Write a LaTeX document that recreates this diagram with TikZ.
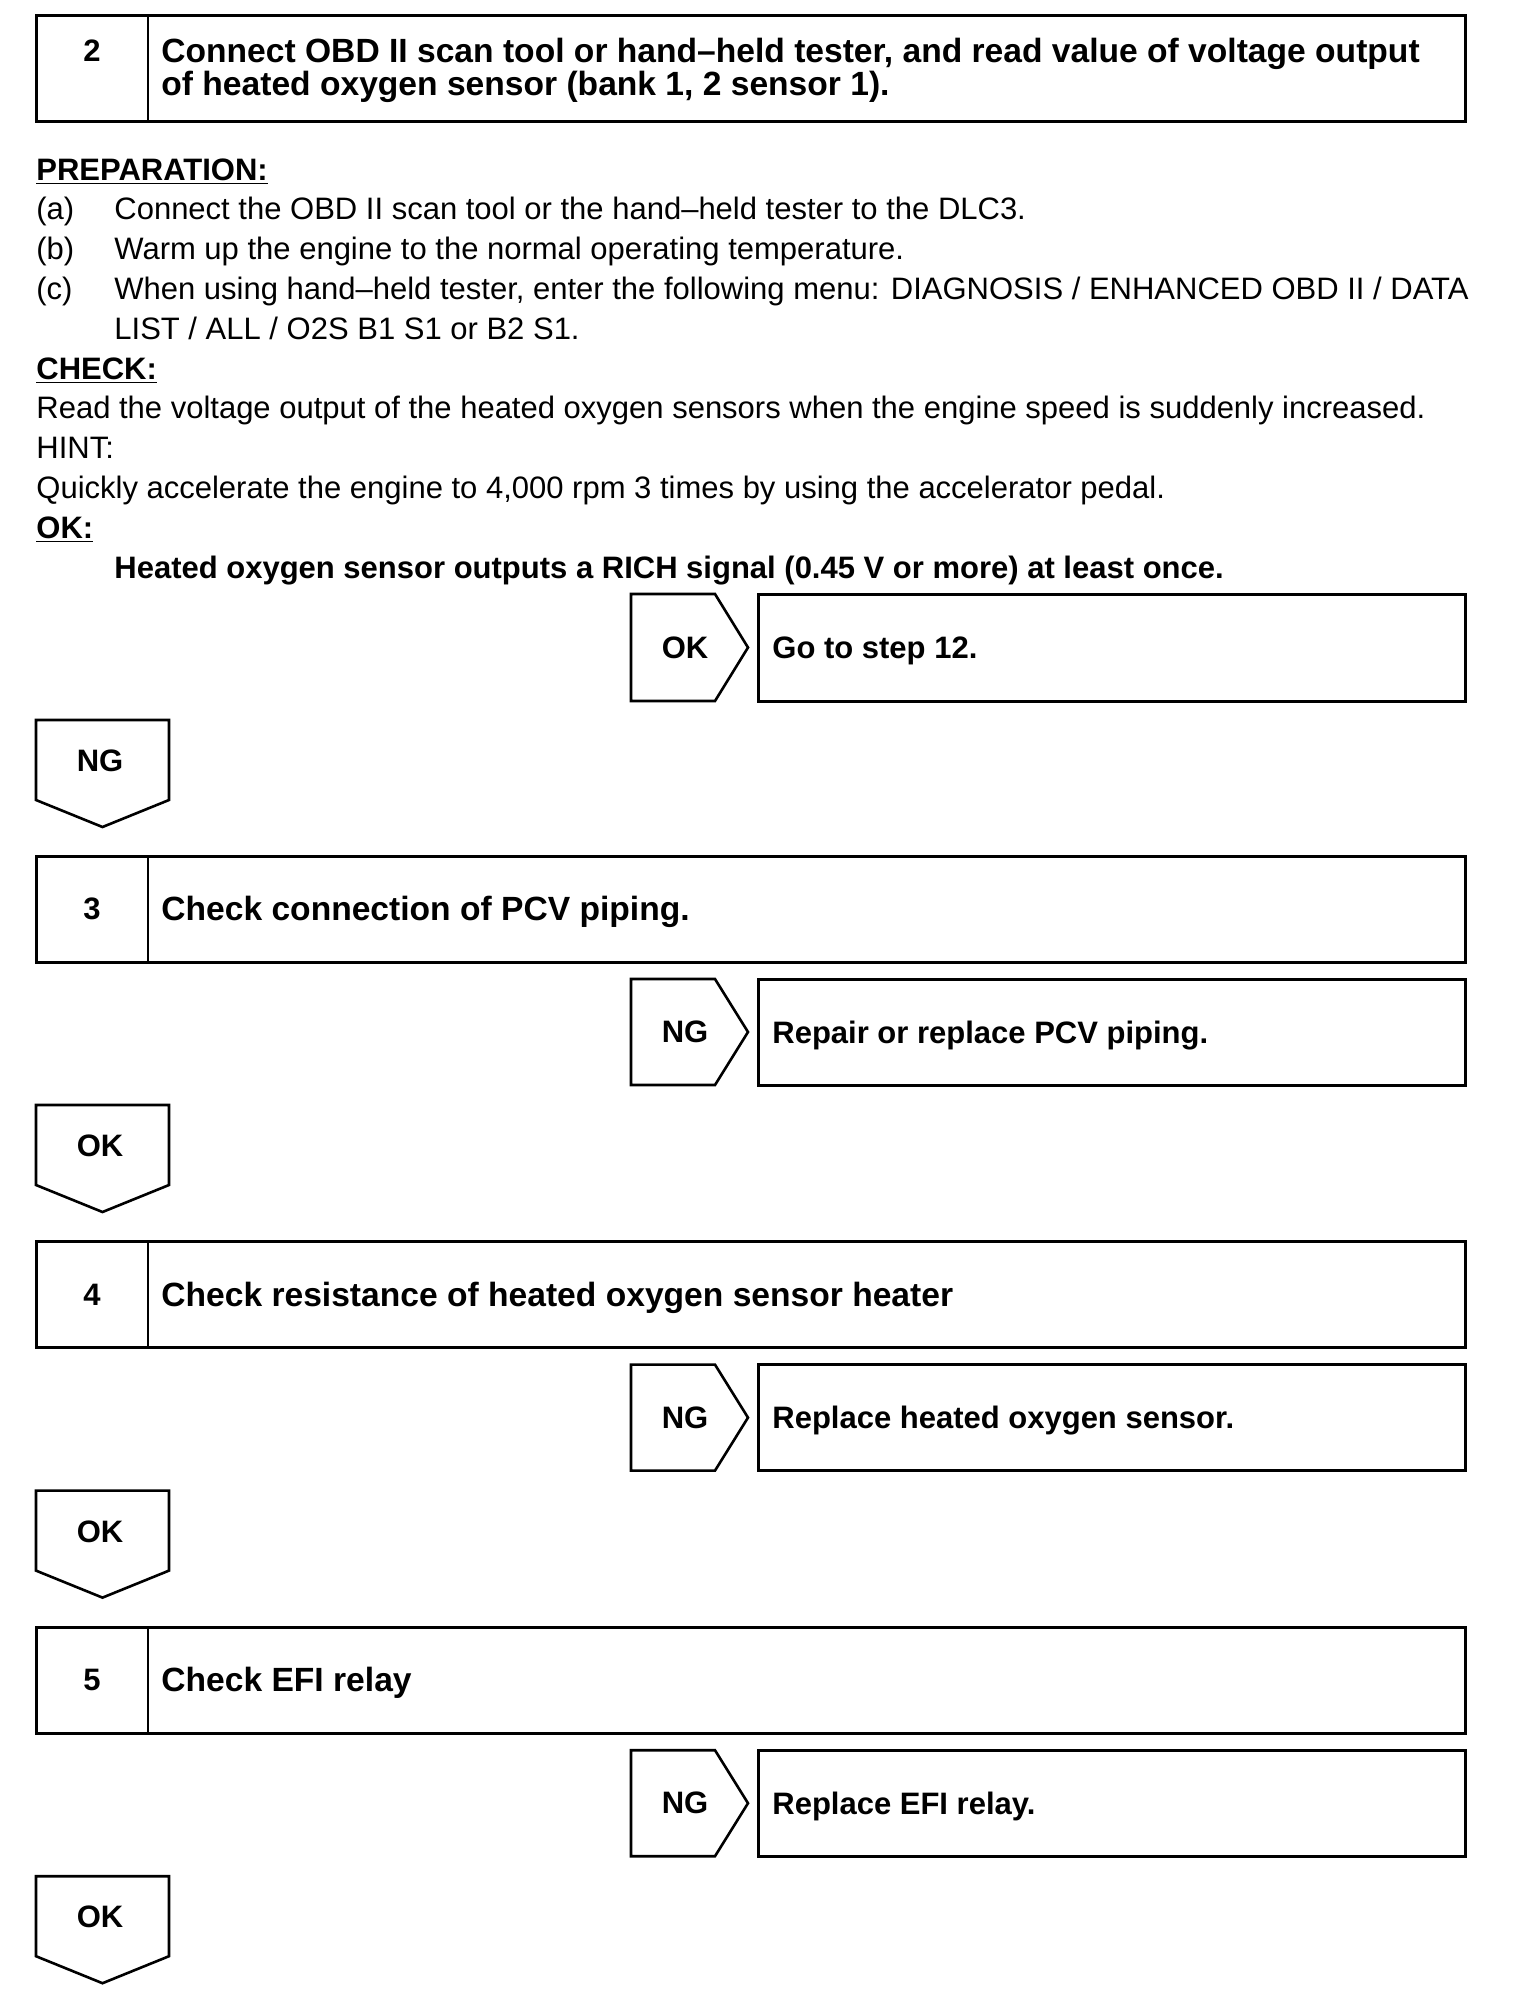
\documentclass[tikz,border=0pt]{standalone}
\usepackage{fontspec}
\setmainfont{Liberation Sans}
\begin{document}
\begin{tikzpicture}[x=0.5pt,y=-0.5pt,
  boxline/.style={line width=1.5pt},
  divline/.style={line width=0.8pt},
  arrowline/.style={line width=1.3pt, line join=miter},
  txt/.style={inner sep=0pt, font=\fontsize{15.5}{19.75}\selectfont},
  btxt/.style={inner sep=0pt, font=\fontsize{15.5}{19.75}\selectfont\bfseries},
  ttxt/.style={inner sep=0pt, font=\fontsize{16.8}{19.75}\selectfont\bfseries},
]
\useasboundingbox[fill=white] (0,0) rectangle (1520,1994);

% ---- step 2 ----
\draw[boxline] (36,15) rectangle (1465,121);
\draw[divline] (148,15) -- (148,121);
\node[btxt] (num2) at (92,51) {2};
\node[ttxt, anchor=base west] (t2a) at (161,62) {Connect OBD II scan tool or hand–held tester, and read value of voltage output};
\node[ttxt, anchor=base west] (t2b) at (161,95) {of heated oxygen sensor (bank 1, 2 sensor 1).};

\node[btxt, anchor=base west] (prep) at (36,180) {\underline{PREPARATION:}};
\node[txt, anchor=base west] (pa) at (36,219.8) {(a)};
\node[txt, anchor=base west] (pat) at (114,219.8) {Connect the OBD II scan tool or the hand–held tester to the DLC3.};
\node[txt, anchor=base west] (pb) at (36,259.6) {(b)};
\node[txt, anchor=base west] (pbt) at (114,259.6) {Warm up the engine to the normal operating temperature.};
\node[txt, anchor=base west] (pc) at (36,299.4) {(c)};
\node[txt, anchor=base west] (pct) at (114,299.4) {When using hand–held tester, enter the following menu: DIAGNOSIS / ENHANCED OBD II / DATA};
\node[txt, anchor=base west] (pct2) at (114,339.2) {LIST / ALL / O2S B1 S1 or B2 S1.};
\node[btxt, anchor=base west] (chk) at (36,379) {\underline{CHECK:}};
\node[txt, anchor=base west] (chkt) at (36,418.8) {Read the voltage output of the heated oxygen sensors when the engine speed is suddenly increased.};
\node[txt, anchor=base west] (hint) at (36,458.6) {HINT:};
\node[txt, anchor=base west] (hintt) at (36,498.4) {Quickly accelerate the engine to 4,000 rpm 3 times by using the accelerator pedal.};
\node[btxt, anchor=base west] (ok) at (36,538.2) {\underline{OK:}};
\node[btxt, anchor=base west] (okt) at (114,578) {Heated oxygen sensor outputs a RICH signal (0.45 V or more) at least once.};

% ---- step 2 result row ----
\draw[arrowline] (631,594) -- (715,594) -- (748,647.5) -- (715,701) -- (631,701) -- cycle;
\node[btxt] (lab2) at (685,647.5) {OK};
\draw[boxline] (758,594) rectangle (1465,701);
\node[btxt, anchor=base west] (res2) at (772,658.5) {Go to step 12.};

% ---- down arrow after step 2 ----
\draw[arrowline] (36,720) -- (169,720) -- (169,800) -- (102.5,827) -- (36,800) -- cycle;
\node[btxt] (dn2) at (100,761) {NG};

% ---- steps 3 to 5 ----
\foreach \k/\ttl/\res in {3/Check connection of PCV piping./Repair or replace PCV piping.,
                          4/Check resistance of heated oxygen sensor heater/Replace heated oxygen sensor.,
                          5/Check EFI relay/Replace EFI relay.}{
  \pgfmathsetmacro{\o}{(\k-3)*385.6}
  \draw[boxline] (36,856+\o) rectangle (1465,962+\o);
  \draw[divline] (148,856+\o) -- (148,962+\o);
  \node[btxt] (num\k) at (92,909+\o) {\k};
  \node[ttxt, anchor=base west] (title\k) at (161,920.5+\o) {\ttl};
  \draw[arrowline] (631,979+\o) -- (715,979+\o) -- (748,1032+\o) -- (715,1085+\o) -- (631,1085+\o) -- cycle;
  \node[btxt] (lab\k) at (685,1032+\o) {NG};
  \draw[boxline] (758,979+\o) rectangle (1465,1085+\o);
  \node[btxt, anchor=base west] (res\k) at (772,1043+\o) {\res};
  \draw[arrowline] (36,1105+\o) -- (169,1105+\o) -- (169,1185+\o) -- (102.5,1212+\o) -- (36,1185+\o) -- cycle;
  \node[btxt] (dn\k) at (100,1146+\o) {OK};
}
\end{tikzpicture}
\end{document}
